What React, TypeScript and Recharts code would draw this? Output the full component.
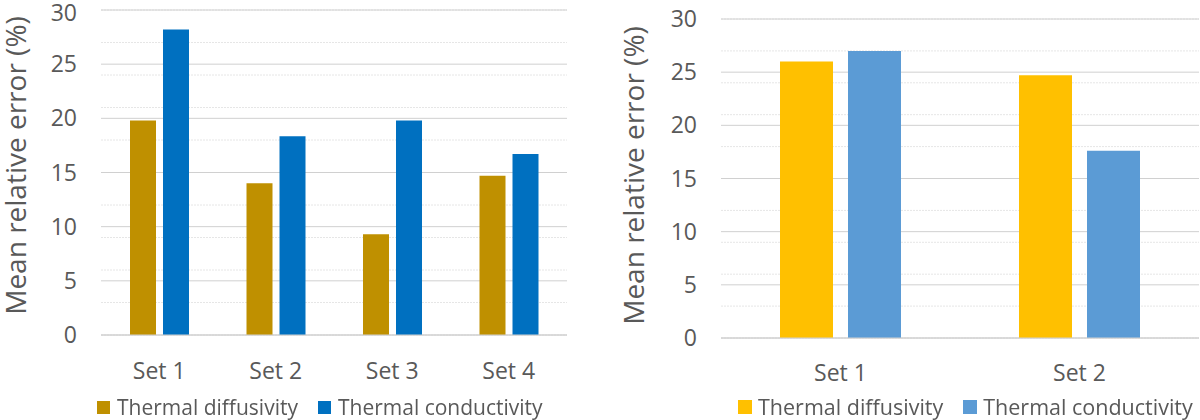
import { Bar, BarChart, CartesianGrid, XAxis, YAxis } from 'recharts'

const leftCategories = ['Set 1', 'Set 2', 'Set 3', 'Set 4']
const leftDiffusivity = [19.8, 14.0, 9.3, 14.7]
const leftConductivity = [28.2, 18.35, 19.8, 16.7]

const rightCategories = ['Set 1', 'Set 2']
const rightDiffusivity = [26.0, 24.7]
const rightConductivity = [27.0, 17.6]

const yTicks = [0, 5, 10, 15, 20, 25, 30]
const minorTicks = Array.from({ length: 31 }, (_, i) => i)

const seriesNames = ['Thermal diffusivity', 'Thermal conductivity']

const FONT = '"Open Sans", sans-serif'
const TEXT = '#595959'

type PanelProps = {
    categories: string[]
    diffusivity: number[]
    conductivity: number[]
    colors: [string, string]
    width: number
    margin: { top: number; right: number; bottom: number; left: number }
    xAxisHeight: number
    xTickMargin: number
    yAxisWidth: number
    labelX: number
    labelShift: number
    barSize: number
    barGap: number
    legendLeft: number
    legendTop: number
    legendGap: number
    legendFont: number
    swatch: number
    swatchGap: number
}

function Panel(p: PanelProps) {
    const data = p.categories.map((c, i) => ({
        name: c,
        diff: p.diffusivity[i],
        cond: p.conductivity[i],
    }))
    return (
        <div style={{ position: 'relative', width: p.width, height: 420 }}>
            <BarChart
                width={p.width}
                height={420}
                data={data}
                margin={p.margin}
                barSize={p.barSize}
                barGap={p.barGap}
                style={{ overflow: 'visible' }}
            >
                {/* minor lines every 1, major every 5 (Excel style) */}
                <CartesianGrid
                    vertical={false}
                    horizontalValues={minorTicks}
                    stroke="#e6e6e6"
                    strokeDasharray="2 1"
                />
                <CartesianGrid
                    vertical={false}
                    horizontalValues={yTicks}
                    stroke="#d0d0d0"
                />
                <XAxis
                    dataKey="name"
                    height={p.xAxisHeight}
                    tickLine={false}
                    axisLine={{ stroke: '#d0d0d0' }}
                    tickSize={0}
                    tickMargin={p.xTickMargin}
                    tick={{ fontSize: 23, fill: TEXT, fontFamily: FONT }}
                />
                <YAxis
                    domain={[0, 30]}
                    ticks={yTicks}
                    width={p.yAxisWidth}
                    axisLine={false}
                    tickLine={false}
                    tickSize={0}
                    tickMargin={24}
                    tick={{ fontSize: 23, fill: TEXT, fontFamily: FONT }}
                    label={{
                        content: (props: any) => {
                            const vb = props.viewBox
                            const cx = p.labelX
                            const cy = vb.y + vb.height / 2 + p.labelShift
                            return (
                                <text
                                    x={cx}
                                    y={cy}
                                    transform={`rotate(-90 ${cx} ${cy})`}
                                    textAnchor="middle"
                                    dominantBaseline="central"
                                    fontSize={28}
                                    fill={TEXT}
                                    fontFamily={FONT}
                                >
                                    Mean relative error (%)
                                </text>
                            )
                        },
                    }}
                />
                <Bar dataKey="diff" name={seriesNames[0]} fill={p.colors[0]} isAnimationActive={false} />
                <Bar dataKey="cond" name={seriesNames[1]} fill={p.colors[1]} isAnimationActive={false} />
            </BarChart>
            <div
                style={{
                    position: 'absolute',
                    left: p.legendLeft,
                    top: p.legendTop,
                    height: 24,
                    display: 'flex',
                    alignItems: 'center',
                    fontFamily: FONT,
                    fontSize: p.legendFont,
                    lineHeight: '24px',
                    color: TEXT,
                    whiteSpace: 'nowrap',
                }}
            >
                {seriesNames.map((n, i) => (
                    <span
                        key={n}
                        style={{
                            display: 'flex',
                            alignItems: 'center',
                            marginRight: i === 0 ? p.legendGap : 0,
                        }}
                    >
                        <span
                            style={{
                                display: 'inline-block',
                                width: p.swatch,
                                height: p.swatch,
                                background: p.colors[i],
                                marginRight: p.swatchGap,
                            }}
                        />
                        {n}
                    </span>
                ))}
            </div>
        </div>
    )
}

export default function App() {
    return (
        <div
            style={{
                position: 'fixed',
                left: 0,
                top: 0,
                width: 1200,
                height: 420,
                background: '#fff',
                display: 'flex',
            }}
        >
            <Panel
                categories={leftCategories}
                diffusivity={leftDiffusivity}
                conductivity={leftConductivity}
                colors={['#BF9000', '#0070C0']}
                width={600}
                margin={{ top: 10, right: 33, bottom: 0, left: 0 }}
                xAxisHeight={85}
                xTickMargin={28}
                yAxisWidth={101}
                labelX={15}
                labelShift={-7}
                barSize={26}
                barGap={7}
                legendLeft={97}
                legendTop={395}
                legendGap={20}
                legendFont={21}
                swatch={13}
                swatchGap={7}
            />
            <Panel
                categories={rightCategories}
                diffusivity={rightDiffusivity}
                conductivity={rightConductivity}
                colors={['#FFC000', '#5B9BD5']}
                width={600}
                margin={{ top: 19, right: 1, bottom: 0, left: 0 }}
                xAxisHeight={82}
                xTickMargin={27}
                yAxisWidth={121}
                labelX={33}
                labelShift={-3}
                barSize={53}
                barGap={15}
                legendLeft={138}
                legendTop={395}
                legendGap={20}
                legendFont={21.5}
                swatch={14}
                swatchGap={6}
            />
        </div>
    )
}
